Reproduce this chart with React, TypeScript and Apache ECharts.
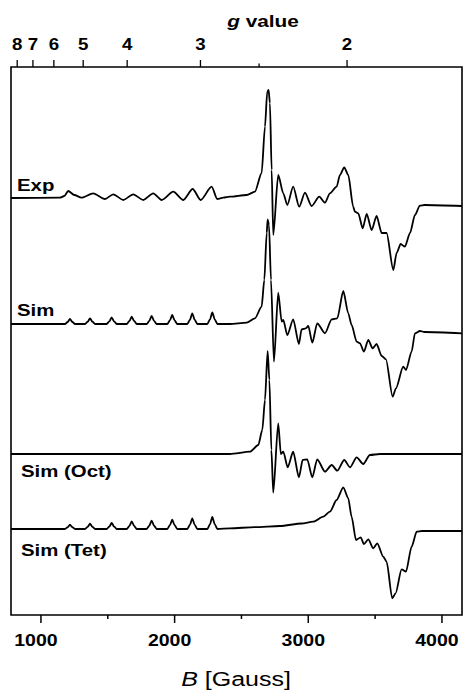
import React, { useEffect, useRef } from 'react';
import * as echarts from 'echarts';

// h·nu / mu_B in gauss (X-band), used to place the reciprocal g-value scale
const G_FACTOR = 6580;

const gTicks = [8, 7, 6, 5, 4, 3, 2.5, 2];
const gLabels = ['8', '7', '6', '5', '4', '3', '', '2'];
const bTicks = [1000, 1500, 2000, 2500, 3000, 3500, 4000];
const bLabels = ['1000', '', '2000', '', '3000', '', '4000'];
const spectrumNames = ['Exp', 'Sim', 'Sim (Oct)', 'Sim (Tet)'];

// [B (gauss), intensity (arb.)]
const expSpectrum = [
  [776, 0], [1142, 0.3], [1175, 2], [1204, 7], [1250, 3], [1304, 0.3], [1391, 4.7], [1479, -1],
  [1541, 3.7], [1616, -2], [1690, 3.7], [1765, -2], [1840, 4.7], [1903, -2], [1990, 6.3], [2065, -2],
  [2135, 9], [2195, -2], [2277, 11.3], [2319, -1], [2364, 0.3], [2414, 1.3], [2539, 3], [2601, 6.3],
  [2651, 25], [2676, 71.3], [2693, 106.3], [2703, 108], [2713, 95], [2726, 28], [2738, -37], [2775, 23],
  [2813, 4.7], [2843, -7], [2887, 11.3], [2932, -8.7], [2975, 5.3], [3025, -8], [3082, 1.3], [3125, -4.7],
  [3162, 4.7], [3212, 11.3], [3237, 23], [3269, 30.7], [3299, 23], [3336, -8.7], [3349, -13.7], [3374, -15.3],
  [3407, -30.3], [3437, -16], [3474, -32], [3511, -18], [3549, -35], [3586, -35], [3636, -72], [3661, -55],
  [3691, -46], [3723, -48.7], [3761, -35], [3798, -17], [3835, -7.7], [3870, -7], [4150, -8],
];

const simSpectrum = [
  [776, 0], [1180, 0], [1200, 2], [1217, 5], [1235, 2], [1255, 0], [1330, 0], [1350, 2.3], [1367, 5.7],
  [1385, 2.3], [1405, 0], [1492, 0], [1512, 2.7], [1529, 6.7], [1547, 2.7], [1567, 0], [1642, 0], [1662, 3],
  [1679, 7.3], [1697, 3], [1717, 0], [1791, 0], [1811, 3.2], [1828, 8], [1846, 3.2], [1866, 0], [1945, 0],
  [1965, 3.6], [1982, 9], [2000, 3.6], [2020, 0], [2095, 0], [2115, 4.3], [2132, 10.7], [2150, 4.3], [2170, 0],
  [2245, 0], [2265, 4.7], [2282, 11.7], [2300, 4.7], [2320, 0], [2414, 0], [2539, 1.3], [2601, 5.7],
  [2651, 17.3], [2671, 44], [2689, 91], [2696, 104.7], [2706, 99], [2721, 44], [2743, -37.7], [2775, 31.3],
  [2801, 2.3], [2813, 4], [2843, -11], [2887, 4.7], [2930, -20], [2950, -5.3], [2982, -4.3], [3000, -2],
  [3030, -18.7], [3067, 0.7], [3125, -9.3], [3175, 4.7], [3217, 5.7], [3262, 33], [3299, 10.7], [3324, -1],
  [3362, -17.7], [3387, -19.3], [3416, -27.7], [3449, -16], [3481, -24.3], [3511, -20], [3549, -32],
  [3581, -35.3], [3631, -72.7], [3656, -64.3], [3710, -42.7], [3731, -46], [3773, -27.7], [3798, -9.3],
  [3835, -7], [3870, -8], [4150, -9.3],
];

const octSpectrum = [
  [776, 0], [2414, 0], [2564, 2.3], [2626, 9], [2656, 24], [2676, 54], [2696, 103], [2709, 74], [2724, 4],
  [2738, -38.7], [2775, 30.7], [2795, 0], [2813, 2.3], [2846, -13.3], [2887, 2.3], [2930, -23.3], [2958, -6],
  [2992, -5.3], [3030, -23.3], [3067, -5.3], [3125, -17.7], [3175, -11], [3217, -16.7], [3269, -6],
  [3312, -13.3], [3362, -3.3], [3411, -10], [3461, -1], [3536, 0], [4150, 0],
];

const tetSpectrum = [
  [776, 0], [1180, 0], [1200, 1.8], [1217, 4.3], [1235, 1.8], [1255, 0], [1330, 0], [1350, 2.2], [1367, 5.3],
  [1385, 2.2], [1405, 0], [1492, 0], [1512, 2.5], [1529, 6], [1547, 2.5], [1567, 0], [1642, 0], [1662, 3.1],
  [1679, 7.6], [1697, 3.1], [1717, 0], [1791, 0], [1811, 3.4], [1828, 8.3], [1846, 3.4], [1866, 0], [1945, 0],
  [1965, 3.8], [1982, 9.3], [2000, 3.8], [2020, 0], [2095, 0], [2115, 4.3], [2132, 10.6], [2150, 4.3], [2170, 0],
  [2245, 0], [2265, 4.9], [2282, 12], [2300, 4.9], [2320, 0], [2414, 0.7], [2600, 1.8], [2788, 3], [2950, 5.5],
  [3037, 7.3], [3112, 12.3], [3162, 17.3], [3212, 29], [3262, 41.7], [3299, 30.7], [3324, 12.3], [3357, -11],
  [3392, -8.3], [3416, -15], [3449, -10.3], [3486, -19.3], [3516, -14.3], [3561, -27.7], [3586, -32.7],
  [3628, -69.3], [3653, -64.3], [3698, -40.3], [3731, -42.7], [3773, -17.7], [3811, -2.7], [3850, -2], [4150, -2],
];

const spectra = [expSpectrum, simSpectrum, octSpectrum, tetSpectrum];
// vertical stacking offsets of each trace (layout)
const traceOffsets = [417, 291, 161, 86];

const FONT = '"Liberation Sans", Arial, Helvetica, sans-serif';

export default function App() {
  const ref = useRef<HTMLDivElement>(null);

  useEffect(() => {
    if (!ref.current) return;
    const chart = echarts.init(ref.current, undefined, { renderer: 'svg' });

    const lineSeries = spectra.map((s, i) => ({
      type: 'line',
      name: spectrumNames[i],
      data: s.map(([b, v]) => [b, v + traceOffsets[i]]),
      showSymbol: false,
      smooth: 0.25,
      smoothMonotone: 'x',
      lineStyle: { color: '#000', width: 1.8 },
      silent: true,
      z: 3,
    }));

    const topAxis = {
      type: 'custom',
      silent: true,
      z: 10,
      data: gTicks.map((g) => [G_FACTOR / g, 0]),
      renderItem: (params: any, api: any) => {
        const pt = api.coord([api.value(0), 0]);
        const top = params.coordSys.y;
        const label = gLabels[params.dataIndex];
        const len = label ? 7 : 3.5;
        const children: any[] = [
          { type: 'line', shape: { x1: pt[0], y1: top, x2: pt[0], y2: top - len }, style: { stroke: '#000', lineWidth: 1.3 } },
        ];
        if (label) {
          children.push({
            type: 'text', x: pt[0], y: top - 23, scaleX: 1.1,
            style: { text: label, align: 'center', verticalAlign: 'middle', font: `bold 17px ${FONT}`, fill: '#000' },
          });
        }
        return { type: 'group', children };
      },
    };

    const bottomAxis = {
      type: 'custom',
      silent: true,
      z: 10,
      data: bTicks.map((b) => [b, 0]),
      renderItem: (params: any, api: any) => {
        const pt = api.coord([api.value(0), 0]);
        const bottom = params.coordSys.y + params.coordSys.height;
        const label = bLabels[params.dataIndex];
        const len = label ? 8 : 4;
        const children: any[] = [
          { type: 'line', shape: { x1: pt[0], y1: bottom, x2: pt[0], y2: bottom + len }, style: { stroke: '#000', lineWidth: 1.5 } },
        ];
        if (label) {
          children.push({
            type: 'text', x: pt[0] - 5, y: bottom + 26, scaleX: 1.22,
            style: { text: label, align: 'center', verticalAlign: 'middle', font: `bold 16px ${FONT}`, fill: '#000' },
          });
        }
        return { type: 'group', children };
      },
    };

    const labelPos = [[17, 185], [17, 310], [21, 471], [21, 550]];

    chart.setOption({
      animation: false,
      grid: {
        left: 11, right: 1, top: 67, bottom: 80,
        show: true, borderColor: '#000', borderWidth: 1.6, backgroundColor: 'transparent',
      },
      xAxis: {
        type: 'value', min: 776, max: 4150,
        axisLine: { show: false }, axisTick: { show: false }, axisLabel: { show: false }, splitLine: { show: false },
      },
      yAxis: {
        type: 'value', min: 0, max: 548, show: false,
        axisLine: { show: false }, axisTick: { show: false }, axisLabel: { show: false }, splitLine: { show: false },
      },
      graphic: [
        {
          type: 'text', x: 263, y: 21, scaleX: 1.3,
          style: {
            text: '{i|g} value',
            align: 'center', verticalAlign: 'middle',
            font: `bold 16px ${FONT}`, fill: '#000',
            rich: { i: { fontStyle: 'italic', fontWeight: 'bold', fontSize: 16, fontFamily: FONT, fill: '#000' } },
          },
        },
        {
          type: 'text', x: 236, y: 679, scaleX: 1.25,
          style: {
            text: '{i|B} [Gauss]',
            align: 'center', verticalAlign: 'middle',
            font: `20px ${FONT}`, fill: '#000',
            rich: { i: { fontStyle: 'italic', fontSize: 20, fontFamily: FONT, fill: '#000' } },
          },
        },
        ...spectrumNames.map((n, i) => ({
          type: 'text', x: labelPos[i][0], y: labelPos[i][1], scaleX: 1.2,
          style: { text: n, align: 'left', verticalAlign: 'middle', font: `bold 17px ${FONT}`, fill: '#000' },
        })),
      ],
      series: [...lineSeries, topAxis, bottomAxis],
    });

    return () => chart.dispose();
  }, []);

  return <div ref={ref} style={{ position: 'fixed', left: 0, top: 0, width: 463, height: 695, background: '#fff' }} />;
}
